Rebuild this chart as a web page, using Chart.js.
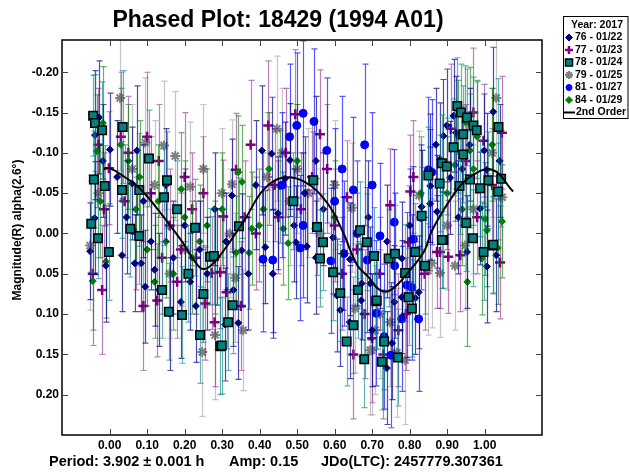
<!DOCTYPE html>
<html>
<head>
<meta charset="utf-8">
<script src="https://cdn.jsdelivr.net/npm/chart.js@4.4.1/dist/chart.umd.min.js"></script>
<style>
  html, body { margin: 0; padding: 0; background: #fff; }
  canvas { display: block; }
</style>
</head>
<body>
<canvas id="phasePlot" width="629" height="472"></canvas>
<script>
// [phase, magnitude, error]
const obs76 = [
  [-0.028,-0.144,0.07],[-0.039,-0.122,0.08],[0.001,-0.104,0.07],[-0.018,-0.090,0.07],[-0.040,-0.019,0.07],[-0.052,0.022,0.06],[-0.010,0.040,0.07],
  [0.060,-0.062,0.07],[0.073,-0.103,0.08],[0.045,-0.020,0.07],[0.090,-0.040,0.07],[0.095,0.066,0.07],[0.132,0.070,0.07],[0.110,0.010,0.06],
  [0.150,-0.060,0.07],[0.170,0.030,0.07],[0.200,-0.010,0.07],[0.215,0.060,0.06],[0.190,0.085,0.07],[0.240,0.020,0.06],[0.260,0.050,0.07],
  [0.286,0.029,0.06],[0.308,0.113,0.07],[0.343,0.111,0.07],[0.326,-0.047,0.07],[0.352,0.021,0.07],[0.280,-0.030,0.07],[0.310,0.010,0.06],
  [0.370,0.050,0.07],[0.033,0.027,0.07],[0.067,0.037,0.06],[0.084,0.037,0.06],[0.120,0.045,0.07],
  [0.020,-0.070,0.07],[0.160,0.100,0.07],[0.230,0.090,0.07],[0.330,0.070,0.07],[0.390,-0.060,0.08],
  [0.406,-0.103,0.08],[0.432,-0.099,0.07],[0.481,-0.091,0.07],[0.468,-0.068,0.07],[0.449,-0.025,0.07],[0.492,-0.010,0.07],[0.497,0.011,0.07],
  [0.526,0.016,0.07],[0.415,0.017,0.07],[0.435,0.050,0.08],[0.520,-0.050,0.07],[0.550,-0.090,0.08],[0.570,-0.030,0.07],[0.550,0.030,0.07],
  [0.596,0.005,0.07],[0.623,0.025,0.07],[0.641,0.032,0.07],[0.606,0.077,0.07],[0.615,0.095,0.07],[0.672,0.062,0.07],[0.695,0.062,0.07],
  [0.671,0.083,0.07],[0.739,0.167,0.07],[0.753,0.136,0.07],[0.759,0.085,0.07],[0.779,0.079,0.07],[0.815,0.080,0.07],[0.824,0.073,0.07],
  [0.779,0.031,0.07],[0.740,0.010,0.07],[0.690,-0.020,0.07],[0.640,0.110,0.07],[0.700,0.120,0.07],[0.800,-0.010,0.07],
  [0.832,-0.033,0.07],[0.855,-0.037,0.07],[0.873,-0.027,0.07],[0.853,-0.078,0.07],[0.855,-0.059,0.07],[0.881,-0.092,0.07],[0.890,-0.121,0.07],
  [0.899,-0.134,0.07],[0.917,-0.146,0.07],[0.924,-0.125,0.07],[0.908,-0.069,0.07],[0.953,0.023,0.07],[0.999,-0.103,0.07],[1.006,-0.079,0.07],
  [0.988,-0.031,0.07],[1.006,0.041,0.07],[1.031,0.027,0.07],[1.023,-0.151,0.08],[0.960,-0.110,0.07],[0.930,-0.020,0.07],[0.870,-0.110,0.07],
  [0.940,-0.080,0.07],[1.040,-0.090,0.07]
];
const obs77 = [
  [-0.002,-0.081,0.07],[-0.030,-0.110,0.07],[-0.015,-0.030,0.07],[-0.045,0.050,0.07],[-0.020,0.070,0.08],
  [0.131,-0.090,0.07],[0.100,-0.120,0.08],[0.050,-0.100,0.07],[0.040,-0.040,0.07],[0.070,0.000,0.07],[0.127,0.083,0.07],[0.255,0.087,0.07],
  [0.110,-0.050,0.07],[0.160,-0.010,0.07],[0.180,0.060,0.07],[0.220,-0.030,0.07],[0.230,0.030,0.07],[0.200,-0.070,0.08],[0.312,0.073,0.07],
  [0.295,0.048,0.07],[0.272,0.049,0.07],[0.303,-0.021,0.07],[0.337,-0.079,0.07],[0.376,-0.110,0.08],[0.360,-0.020,0.07],[0.390,0.000,0.07],
  [0.250,-0.050,0.07],[0.140,0.030,0.07],[0.030,-0.120,0.08],[0.090,0.090,0.08],[0.190,0.020,0.07],[0.280,0.110,0.08],[0.350,0.090,0.08],
  [0.423,-0.134,0.08],[0.495,-0.148,0.08],[0.561,-0.123,0.08],[0.470,-0.100,0.08],[0.440,-0.060,0.07],[0.510,-0.030,0.07],[0.540,-0.070,0.07],
  [0.580,-0.080,0.08],[0.633,-0.045,0.07],[0.600,-0.010,0.07],[0.620,0.050,0.07],[0.660,0.020,0.07],[0.680,0.100,0.08],[0.700,0.130,0.08],
  [0.450,-0.020,0.07],[0.650,0.150,0.08],[0.730,0.150,0.08],
  [0.720,0.050,0.07],[0.748,-0.035,0.07],[0.797,0.011,0.07],[0.810,-0.070,0.07],[0.802,-0.052,0.07],[0.770,0.120,0.07],[0.790,0.100,0.07],
  [0.873,0.023,0.07],[0.903,0.029,0.07],[0.935,0.027,0.07],[0.881,0.023,0.07],[0.840,0.050,0.07],
  [0.997,-0.115,0.07],[1.046,-0.125,0.07],[1.041,0.036,0.07],[0.950,-0.090,0.07],[0.980,-0.020,0.07],[1.020,-0.060,0.07],[0.910,-0.130,0.08],
  [0.970,-0.150,0.08]
];
const obs78 = [
  [-0.044,-0.146,0.05],[-0.039,-0.137,0.06],[-0.020,-0.128,0.06],[-0.042,-0.067,0.06],[-0.013,-0.059,0.05],[-0.049,-0.012,0.06],
  [-0.031,0.006,0.05],[-0.002,0.023,0.06],
  [0.035,-0.132,0.07],[0.105,-0.093,0.06],[0.033,-0.054,0.06],[0.079,-0.054,0.07],[0.055,-0.006,0.06],[0.079,0.003,0.06],[0.153,-0.066,0.06],
  [0.145,-0.045,0.06],[0.158,0.097,0.06],[0.193,0.101,0.06],[0.241,0.126,0.06],[0.295,0.140,0.06],[0.268,0.029,0.06],[0.316,0.110,0.06],
  [0.328,0.089,0.06],[0.299,0.139,0.06],[0.345,-0.009,0.06],[0.210,0.050,0.06],[0.228,-0.007,0.06],[0.180,-0.030,0.06],[0.140,0.070,0.06],
  [0.250,0.075,0.06],[0.278,0.028,0.06],
  [0.543,-0.066,0.06],[0.490,-0.040,0.06],
  [0.553,-0.008,0.06],[0.569,0.011,0.06],[0.561,0.031,0.06],[0.596,0.048,0.06],[0.615,0.074,0.06],[0.650,0.114,0.06],[0.632,0.134,0.055],
  [0.679,0.156,0.06],[0.668,-0.004,0.06],[0.686,0.011,0.06],[0.705,0.028,0.06],[0.662,0.070,0.06],[0.711,0.084,0.06],
  [0.726,0.159,0.06],[0.769,0.154,0.06],[0.732,0.134,0.06],[0.712,0.083,0.06],[0.797,0.079,0.06],[0.806,0.093,0.06],[0.744,0.031,0.06],
  [0.761,0.025,0.06],[0.815,0.023,0.06],[0.890,0.008,0.06],[0.841,0.040,0.06],[0.788,0.049,0.06],
  [0.969,0.006,0.06],[0.997,0.023,0.06],[1.022,0.015,0.06],
  [0.927,-0.158,0.06],[0.937,-0.150,0.06],[0.953,-0.144,0.06],[0.970,-0.134,0.06],[0.979,-0.128,0.06],[0.943,-0.123,0.06],[0.917,-0.107,0.06],
  [0.943,-0.098,0.06],[1.037,-0.132,0.06],[1.044,-0.068,0.06],[1.036,-0.052,0.06],[1.010,-0.066,0.06],[0.961,-0.067,0.06],[0.886,-0.087,0.06],
  [0.899,-0.083,0.06],[0.880,-0.062,0.06],[0.850,-0.072,0.06],[0.933,-0.059,0.06],[0.988,-0.056,0.06],[0.832,-0.022,0.06],[0.886,0.008,0.06],
  [0.951,-0.013,0.06],[1.023,0.014,0.06]
];
const obs79 = [
  [-0.052,0.015,0.08],[-0.030,-0.050,0.08],
  [0.028,-0.168,0.09],[0.095,-0.113,0.08],[0.145,-0.109,0.08],[0.175,-0.096,0.08],[0.215,-0.058,0.08],[0.299,-0.050,0.08],[0.326,-0.061,0.08],
  [0.120,-0.060,0.08],[0.060,-0.080,0.08],[0.250,-0.080,0.08],[0.200,0.020,0.08],[0.160,0.050,0.08],
  [0.247,0.147,0.08],[0.356,0.120,0.075],[0.281,0.126,0.08],[0.335,0.055,0.08],[0.320,0.000,0.08],
  [0.446,-0.130,0.09],[0.460,-0.100,0.08],[0.500,-0.080,0.08],[0.530,-0.050,0.08],[0.480,-0.040,0.08],[0.420,-0.070,0.08],[0.646,-0.032,0.08],
  [0.600,-0.060,0.08],[0.560,0.000,0.08],
  [0.655,0.093,0.08],[0.695,0.145,0.08],[0.708,0.120,0.08],[0.699,0.145,0.08],[0.766,0.148,0.08],[0.788,0.157,0.08],[0.748,0.110,0.08],
  [0.720,0.100,0.08],
  [0.825,-0.047,0.08],[0.849,0.046,0.08],[0.859,0.037,0.08],[0.881,0.049,0.08],[0.921,0.040,0.08],[0.948,0.015,0.08],[0.970,-0.030,0.08],
  [1.031,-0.168,0.09],[1.047,-0.045,0.08],[1.020,-0.100,0.08],[0.900,-0.010,0.08]
];
const obs81 = [
  [0.409,0.032,0.09],[0.435,0.033,0.09],[0.516,-0.149,0.09],[0.545,-0.139,0.09],[0.499,-0.134,0.09],[0.579,-0.103,0.09],[0.516,-0.010,0.09],
  [0.508,0.018,0.09],[0.460,-0.060,0.09],[0.480,-0.120,0.09],
  [0.590,0.034,0.09],[0.625,0.025,0.09],[0.650,-0.054,0.09],[0.687,0.033,0.09],[0.620,-0.080,0.09],[0.600,-0.040,0.09],[0.660,0.000,0.09],
  [0.700,-0.060,0.09],[0.680,-0.110,0.10],
  [0.711,0.099,0.09],[0.732,0.128,0.09],[0.750,0.151,0.09],[0.779,0.106,0.09],[0.824,0.106,0.09],[0.806,0.067,0.09],[0.793,0.064,0.09],
  [0.810,0.007,0.09],[0.759,-0.014,0.09],[0.721,0.003,0.09],[0.850,-0.079,0.09],[0.859,-0.076,0.09],[0.760,0.040,0.09],[0.830,-0.020,0.09]
];
const obs84 = [
  [-0.034,-0.102,0.07],[-0.018,-0.137,0.07],[-0.045,0.059,0.08],[-0.010,0.035,0.07],[-0.025,-0.040,0.07],
  [0.191,-0.055,0.07],[0.050,-0.090,0.07],[0.070,-0.030,0.07],[0.100,0.020,0.07],[0.130,-0.040,0.07],[0.150,0.010,0.07],[0.170,0.050,0.07],
  [0.120,0.060,0.07],[0.220,0.030,0.07],[0.260,-0.010,0.07],[0.030,-0.110,0.07],[0.080,-0.070,0.07],[0.200,-0.020,0.07],[0.240,0.010,0.07],
  [0.280,0.030,0.07],
  [0.343,-0.076,0.07],[0.353,-0.064,0.07],[0.425,-0.080,0.07],[0.455,-0.058,0.07],[0.379,-0.006,0.07],[0.399,-0.010,0.07],[0.463,-0.006,0.07],
  [0.476,0.012,0.07],[0.337,0.024,0.07],[0.372,0.024,0.07],[0.300,-0.030,0.07],[0.410,-0.030,0.07],
  [0.500,-0.090,0.07],[0.600,-0.020,0.07],
  [0.954,0.060,0.08],[0.992,0.031,0.07],[1.035,0.018,0.07],[1.001,-0.018,0.07],[1.006,-0.004,0.07],[1.046,-0.015,0.07],[0.948,-0.138,0.07],
  [0.961,-0.136,0.07],[0.961,-0.103,0.07],[0.921,-0.085,0.07],[0.980,-0.120,0.07],[0.900,-0.050,0.07],[0.940,-0.030,0.07],[0.830,-0.050,0.07],
  [0.970,-0.080,0.07],[1.020,-0.110,0.07],[0.930,-0.120,0.07]
];

// 2nd order fit
const fitPhase = [-0.015, 0.0, 0.04, 0.08, 0.135, 0.19, 0.24, 0.26, 0.29, 0.36, 0.41, 0.46, 0.52, 0.58, 0.62, 0.66, 0.69, 0.72, 0.75, 0.80, 0.84, 0.86, 0.92, 0.96, 1.02, 1.076];
const fitMag   = [-0.080, -0.081, -0.070, -0.056, -0.026, 0.008, 0.042, 0.043, 0.030, -0.017, -0.054, -0.069, -0.064, -0.038, -0.004, 0.039, 0.054, 0.070, 0.070, 0.046, 0.021, -0.004, -0.050, -0.070, -0.079, -0.052];

const xTicks = [0.0, 0.1, 0.2, 0.3, 0.4, 0.5, 0.6, 0.7, 0.8, 0.9, 1.0];
const yTicks = [-0.20, -0.15, -0.10, -0.05, 0.0, 0.05, 0.10, 0.15, 0.20];

const legendTitle = 'Year: 2017';
const sessions = ['76 - 01/22', '77 - 01/23', '78 - 01/24', '79 - 01/25', '81 - 01/27', '84 - 01/29'];
const fitLabel = '2nd Order';

const FONT = "'Liberation Sans', Arial, sans-serif";
Chart.defaults.font.family = FONT;

const toPts = arr => arr.map(p => ({ x: p[0], y: p[1], err: p[2] }));

const styles = [
  { data: obs76, pointStyle: 'rectRot', radius: 3.5, bg: '#000080', border: '#000080', bw: 1, err: 'rgba(0,0,140,0.7)', order: 2, legR: 3.5 },
  { data: obs77, pointStyle: 'cross', radius: 5, bg: '#800080', border: '#800080', bw: 2.5, err: 'rgba(128,0,128,0.5)', order: 5, legR: 4 },
  { data: obs78, pointStyle: 'rect', radius: 6, bg: '#008080', border: '#000000', bw: 1.5, err: 'rgba(0,128,128,0.6)', order: 1, legR: 5 },
  { data: obs79, pointStyle: 'star', radius: 5, bg: '#808080', border: '#808080', bw: 2, err: 'rgba(150,150,150,0.55)', order: 6, legR: 4 },
  { data: obs81, pointStyle: 'circle', radius: 4, bg: '#0000ff', border: '#0000ff', bw: 1, err: 'rgba(0,0,255,0.65)', order: 3, legR: 3 },
  { data: obs84, pointStyle: 'rectRot', radius: 3.5, bg: '#008000', border: '#008000', bw: 1, err: 'rgba(0,128,0,0.6)', order: 4, legR: 3.5 }
];

const datasets = styles.map((s, i) => ({
  label: sessions[i],
  data: toPts(s.data),
  pointStyle: s.pointStyle,
  pointRadius: s.radius,
  pointBackgroundColor: s.bg,
  pointBorderColor: s.border,
  pointBorderWidth: s.bw,
  errColor: s.err,
  showLine: false,
  order: s.order
}));

datasets.push({
  label: fitLabel,
  data: fitPhase.map((x, i) => ({ x: x, y: fitMag[i] })),
  showLine: true,
  borderColor: '#000',
  borderWidth: 2,
  pointRadius: 0,
  tension: 0.4,
  order: 0
});

const errorBars = {
  id: 'errorBars',
  beforeDatasetDraw(chart, args) {
    const ds = chart.data.datasets[args.index];
    if (!ds.errColor) return;
    const { ctx, chartArea: a, scales: { x, y } } = chart;
    ctx.save();
    ctx.beginPath();
    ctx.rect(a.left, a.top, a.right - a.left, a.bottom - a.top);
    ctx.clip();
    ctx.strokeStyle = ds.errColor;
    ctx.lineWidth = 1.2;
    ds.data.forEach(p => {
      const px = Math.round(x.getPixelForValue(p.x)) + 0.5;
      const y1 = y.getPixelForValue(p.y - p.err);
      const y2 = y.getPixelForValue(p.y + p.err);
      ctx.beginPath();
      ctx.moveTo(px, y1); ctx.lineTo(px, y2);
      ctx.moveTo(px - 3, y1); ctx.lineTo(px + 3, y1);
      ctx.moveTo(px - 3, y2); ctx.lineTo(px + 3, y2);
      ctx.stroke();
    });
    ctx.restore();
  }
};

const decorations = {
  id: 'decorations',
  afterDraw(chart) {
    const { ctx, chartArea: a, scales: { x, y } } = chart;
    ctx.save();
    // frame
    ctx.strokeStyle = '#000';
    ctx.lineWidth = 1.5;
    ctx.strokeRect(a.left, a.top, a.right - a.left, a.bottom - a.top);
    // inward ticks on all sides
    ctx.strokeStyle = '#444';
    ctx.lineWidth = 1;
    ctx.beginPath();
    xTicks.forEach(v => {
      const px = Math.round(x.getPixelForValue(v)) + 0.5;
      ctx.moveTo(px, a.bottom); ctx.lineTo(px, a.bottom - 6);
      ctx.moveTo(px, a.top); ctx.lineTo(px, a.top + 6);
    });
    yTicks.forEach(v => {
      const py = Math.round(y.getPixelForValue(v)) + 0.5;
      ctx.moveTo(a.left, py); ctx.lineTo(a.left + 6, py);
      ctx.moveTo(a.right, py); ctx.lineTo(a.right - 6, py);
    });
    ctx.stroke();

    ctx.fillStyle = '#000';
    // title
    ctx.font = 'bold 23px ' + FONT;
    ctx.textAlign = 'center';
    ctx.textBaseline = 'middle';
    ctx.fillText('Phased Plot: 18429 (1994 A01)', 278, 21);

    // y axis title
    ctx.save();
    ctx.translate(18, 230);
    ctx.rotate(-Math.PI / 2);
    ctx.font = 'bold 12px ' + FONT;
    ctx.fillText('Magnitude(R) alpha(2.6\u00b0)', 0, 0);
    ctx.restore();

    // footer
    ctx.font = 'bold 14.5px ' + FONT;
    ctx.textAlign = 'left';
    ctx.fillText('Period: 3.902 \u00b1 0.001 h', 49, 462);
    ctx.fillText('Amp: 0.15', 229, 462);
    ctx.fillText('JDo(LTC): 2457779.307361', 321, 462);

    // legend
    const lx = 563, ly = 16, lw = 66, lh = 103, row = 12.5;
    ctx.fillStyle = '#fff';
    ctx.fillRect(lx, ly, lw, lh);
    ctx.strokeStyle = '#000';
    ctx.lineWidth = 1;
    ctx.strokeRect(lx + 0.5, ly + 0.5, lw - 1.5, lh - 1);
    ctx.fillStyle = '#000';
    ctx.font = 'bold 10.5px ' + FONT;
    ctx.textAlign = 'center';
    ctx.fillText(legendTitle, lx + lw / 2 + 1, ly + 9);
    ctx.textAlign = 'left';
    styles.forEach((s, i) => {
      const cy = ly + 9 + row * (i + 1);
      ctx.fillStyle = s.bg;
      ctx.strokeStyle = s.border;
      ctx.lineWidth = s.bw;
      Chart.helpers.drawPoint(ctx, { pointStyle: s.pointStyle, radius: s.legR, rotation: 0, borderWidth: s.bw }, lx + 6, cy);
      ctx.fillStyle = '#000';
      ctx.fillText(sessions[i], lx + 12, cy);
    });
    const fy = ly + 9 + row * 7;
    ctx.strokeStyle = '#000';
    ctx.lineWidth = 2;
    ctx.beginPath();
    ctx.moveTo(lx + 1, fy); ctx.lineTo(lx + 12, fy);
    ctx.stroke();
    ctx.fillStyle = '#000';
    ctx.fillText(fitLabel, lx + 13, fy);
    ctx.restore();
  }
};

new Chart(document.getElementById('phasePlot').getContext('2d'), {
  type: 'scatter',
  data: { datasets: datasets },
  options: {
    responsive: false,
    animation: false,
    devicePixelRatio: 1,
    layout: { padding: { left: 0, right: 87, top: 40, bottom: 21 } },
    plugins: { legend: { display: false }, tooltip: { enabled: false } },
    scales: {
      x: {
        type: 'linear',
        min: -0.127,
        max: 1.153,
        grid: { display: false, drawTicks: false },
        border: { display: false },
        afterFit: s => { s.height = 16; },
        afterBuildTicks: s => { s.ticks = xTicks.map(v => ({ value: v })); },
        ticks: { padding: 3, color: '#000', font: { size: 12, weight: 'bold' }, maxRotation: 0, autoSkip: false, callback: v => v.toFixed(2) }
      },
      y: {
        type: 'linear',
        min: -0.24,
        max: 0.25,
        reverse: true,
        grid: { display: false, drawTicks: false },
        border: { display: false },
        afterFit: s => { s.width = 62; },
        afterBuildTicks: s => { s.ticks = yTicks.map(v => ({ value: v })); },
        ticks: { padding: 3, color: '#000', font: { size: 12, weight: 'bold' }, autoSkip: false, callback: v => v.toFixed(2) }
      }
    }
  },
  plugins: [errorBars, decorations]
});
</script>
</body>
</html>
